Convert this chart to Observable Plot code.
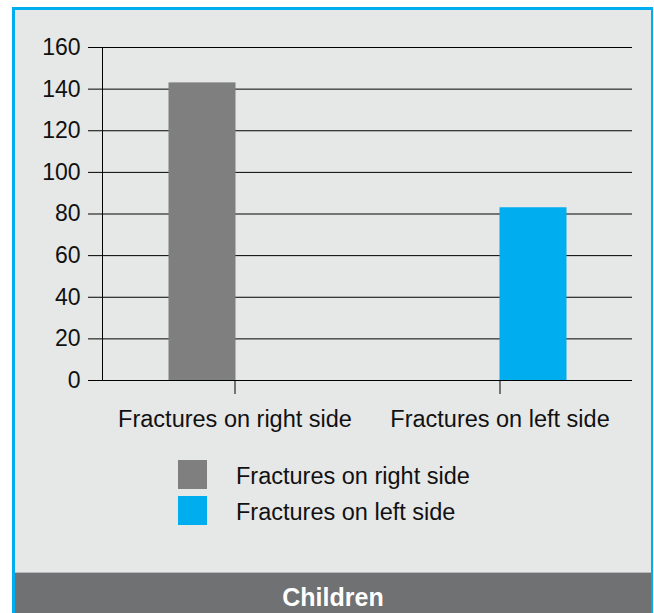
<!DOCTYPE html>
<html>
<head>
<meta charset="utf-8">
<script src="https://cdn.jsdelivr.net/npm/d3@7"></script>
<script src="https://cdn.jsdelivr.net/npm/@observablehq/plot@0.6"></script>
<style>
  html, body { margin: 0; padding: 0; background: #ffffff; }
  body { width: 654px; height: 613px; position: relative; overflow: hidden; font-family: "Liberation Sans", Arial, sans-serif; }
  #frame {
    position: absolute; left: 12px; top: 7px; width: 636px; height: 620px;
    border-left: 3px solid #00aeef; border-top: 3px solid #00aeef; border-right: 2px solid #00aeef;
    background: #e6e8e8;
  }
  #chart { position: absolute; left: 0; top: 0; }
  #legend { position: absolute; left: 163px; top: 446px; }
  .row { display: flex; align-items: center; height: 36px; }
  .sw { width: 29px; height: 29px; margin-right: 29px; }
  .lab { font-size: 23.5px; color: #111; position: relative; top: 2px; }
  #footer {
    position: absolute; left: 0; top: 562px; width: 636px; height: 60px;
    background: #707173; border-top: 1px solid #b8b9ba;
    color: #ffffff; font-weight: bold; font-size: 25px; text-align: center;
  }
  #footer span { position: absolute; left: 0; right: 0; top: 10px; }
  #chart svg text { font-family: "Liberation Sans", Arial, sans-serif; }
  #chart svg g[aria-label="y-axis tick label"] text { font-size: 23px; }
  #chart svg g[aria-label="x-axis tick label"] text { font-size: 23.5px; }
</style>
</head>
<body>
<div id="frame">
  <div id="chart"></div>
  <div id="legend"></div>
  <div id="footer"><span>Children</span></div>
</div>
<script>
const categories = ["Fractures on right side", "Fractures on left side"];
const seriesNames = ["Fractures on right side", "Fractures on left side"];
const rightSideValues = [143, 0];
const leftSideValues = [0, 83];
const seriesColors = ["#7f7f7f", "#00aeef"];
const yTicks = [0, 20, 40, 60, 80, 100, 120, 140, 160];

const seriesValues = [rightSideValues, leftSideValues];
const data = [];
seriesNames.forEach((s, si) => {
  categories.forEach((c, ci) => {
    data.push({category: c, series: s, value: seriesValues[si][ci]});
  });
});

const barW = 67;
const half = 132.5;

const plot = Plot.plot({
  width: 636,
  height: 430,
  marginLeft: 87,
  marginRight: 19,
  marginTop: 37,
  marginBottom: 60,
  style: {background: "transparent", fontFamily: "'Liberation Sans', Arial, sans-serif", fontSize: "22.5px", color: "#111"},
  x: {domain: categories, padding: 0, label: null},
  y: {domain: [0, 160], ticks: yTicks, label: null},
  marks: [
    Plot.gridY(yTicks, {stroke: "#000", strokeOpacity: 1, strokeWidth: 1}),
    Plot.barY(data.filter(d => d.series === seriesNames[0]), {
      x: "category", y: "value", fill: seriesColors[0],
      insetLeft: half - barW + 1, insetRight: half - 1
    }),
    Plot.barY(data.filter(d => d.series === seriesNames[1]), {
      x: "category", y: "value", fill: seriesColors[1],
      insetLeft: half, insetRight: half - barW
    }),
    Plot.frame({anchor: "left", stroke: "#000"}),
    Plot.axisY(yTicks, {tickSize: 14, tickPadding: 8, stroke: "#000", fill: "#111", label: null}),
    Plot.axisX({tickSize: 14, tickPadding: 16, stroke: "#000", fill: "#111", label: null}),
    Plot.ruleY([0], {stroke: "#000", strokeWidth: 1})
  ]
});
document.getElementById("chart").appendChild(plot);

const legend = document.getElementById("legend");
seriesNames.forEach((s, i) => {
  const row = document.createElement("div");
  row.className = "row";
  const sw = document.createElement("div");
  sw.className = "sw";
  sw.style.background = seriesColors[i];
  const lab = document.createElement("span");
  lab.className = "lab";
  lab.textContent = s;
  row.appendChild(sw);
  row.appendChild(lab);
  legend.appendChild(row);
});
</script>
</body>
</html>
